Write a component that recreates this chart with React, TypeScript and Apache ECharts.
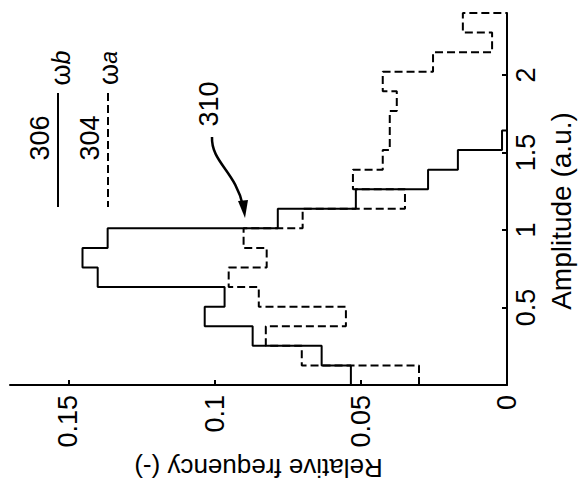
import React, { useEffect, useRef } from "react";
import * as echarts from "echarts";

// Amplitude bin edges (a.u.), 19 bins between 0 and 2.4
const binEdges = [0, 0.126, 0.253, 0.379, 0.505, 0.632, 0.758, 0.884, 1.011, 1.137, 1.263, 1.389, 1.516, 1.642, 1.768, 1.895, 2.021, 2.147, 2.274, 2.4];

// 306 — ω b (solid)
const omegaB = [0.0534, 0.0634, 0.087, 0.1034, 0.0966, 0.14, 0.1452, 0.1366, 0.0784, 0.0517, 0.027, 0.0168, 0.0017, 0, 0, 0, 0, 0, 0];
// 304 — ω a (dashed)
const omegaA = [0.0301, 0.0702, 0.0825, 0.0551, 0.0849, 0.0952, 0.0822, 0.0901, 0.0699, 0.0349, 0.0527, 0.0425, 0.0401, 0.0401, 0.0377, 0.0425, 0.0253, 0.0051, 0.0151];

const freqTicks = [0, 0.05, 0.1, 0.15];
const ampTicks = [0.5, 1, 1.5, 2];

const FONT = '"Liberation Sans Narrow", "Arial Narrow", "Liberation Sans", Arial, sans-serif';

function stairs(vals: number[]): number[][] {
  const pts: number[][] = [[vals[0], binEdges[0]]];
  vals.forEach((v, i) => {
    pts.push([v, binEdges[i]]);
    pts.push([v, binEdges[i + 1]]);
  });
  pts.push([0, binEdges[binEdges.length - 1]]);
  return pts;
}

export default function App() {
  const ref = useRef<HTMLDivElement>(null);
  useEffect(() => {
    if (!ref.current) return;
    const chart = echarts.init(ref.current, undefined, { renderer: "svg" });
    const txt = { color: "#000", fontFamily: FONT, fontSize: 27 };
    chart.setOption({
      animation: false,
      backgroundColor: "#fff",
      grid: { left: 10, right: 73, top: 13, bottom: 108, containLabel: false, outerBoundsMode: "none" },
      xAxis: {
        type: "value",
        min: 0,
        max: 0.17,
        inverse: true,
        position: "bottom",
        axisLine: { show: true, onZero: false, lineStyle: { color: "#000", width: 2 } },
        axisTick: { show: true, inside: true, length: 5, customValues: freqTicks, lineStyle: { color: "#000", width: 2 } },
        axisLabel: { ...txt, customValues: freqTicks, rotate: 90, margin: 10, formatter: (v: number) => String(v) },
        splitLine: { show: false },
        name: "Relative frequency (-)",
        nameLocation: "middle",
        nameGap: 63,
        nameRotate: 180,
        nameTextStyle: { ...txt, fontSize: 26 },
      },
      yAxis: {
        type: "value",
        min: 0,
        max: 2.4,
        position: "right",
        axisLine: { show: true, onZero: false, lineStyle: { color: "#000", width: 2 } },
        axisTick: { show: true, inside: true, length: 5, customValues: ampTicks, lineStyle: { color: "#000", width: 2 } },
        axisLabel: { ...txt, customValues: ampTicks, rotate: 90, margin: 5, formatter: (v: number) => String(v) },
        splitLine: { show: false },
      },
      series: [
        {
          name: "ωa",
          type: "line",
          data: stairs(omegaA),
          symbol: "none",
          lineStyle: { color: "#000", width: 2, type: [8, 4] },
          z: 2,
        },
        {
          name: "ωb",
          type: "line",
          data: stairs(omegaB),
          symbol: "none",
          lineStyle: { color: "#000", width: 2, type: "solid" },
          z: 3,
        },
      ],
      graphic: [
        { type: "text", x: 561, y: 211, rotation: Math.PI / 2, style: { text: "Amplitude (a.u.)", fontFamily: FONT, fontSize: 28, fill: "#000", align: "center", verticalAlign: "middle" } },
        { type: "line", shape: { x1: 58, y1: 93, x2: 58, y2: 207 }, style: { stroke: "#000", lineWidth: 2 } },
        { type: "line", shape: { x1: 108, y1: 93, x2: 108, y2: 207 }, style: { stroke: "#000", lineWidth: 2, lineDash: [8, 4] } },
        { type: "text", x: 40, y: 138, rotation: Math.PI / 2, style: { text: "306", fontFamily: FONT, fontSize: 27, fill: "#000", align: "center", verticalAlign: "middle" } },
        { type: "text", x: 90, y: 138, rotation: Math.PI / 2, style: { text: "304", fontFamily: FONT, fontSize: 27, fill: "#000", align: "center", verticalAlign: "middle" } },
        {
          type: "text", x: 61, y: 68, rotation: Math.PI / 2,
          style: {
            text: "{w|ω}{i|b}", fill: "#000", align: "center", verticalAlign: "middle",
            rich: { w: { fontFamily: FONT, fontSize: 27, fill: "#000" }, i: { fontFamily: FONT, fontSize: 25, fontStyle: "italic", fill: "#000" } },
          },
        },
        {
          type: "text", x: 109, y: 68, rotation: Math.PI / 2,
          style: {
            text: "{w|ω}{i|a}", fill: "#000", align: "center", verticalAlign: "middle",
            rich: { w: { fontFamily: FONT, fontSize: 27, fill: "#000" }, i: { fontFamily: FONT, fontSize: 23, fontStyle: "italic", fill: "#000" } },
          },
        },
        { type: "text", x: 209, y: 104, rotation: Math.PI / 2, style: { text: "310", fontFamily: FONT, fontSize: 27, fill: "#000", align: "center", verticalAlign: "middle" } },
        {
          type: "bezierCurve",
          shape: { x1: 212, y1: 137, cpx1: 211, cpy1: 162, cpx2: 236, cpy2: 172, x2: 243, y2: 206 },
          style: { stroke: "#000", lineWidth: 2.5, fill: null },
        },
        { type: "polygon", shape: { points: [[238, 201], [248, 200], [245, 218]] }, style: { fill: "#000" } },
      ],
    });
    return () => chart.dispose();
  }, []);
  return <div ref={ref} style={{ position: "fixed", left: 0, top: 0, width: 580, height: 493 }} />;
}
